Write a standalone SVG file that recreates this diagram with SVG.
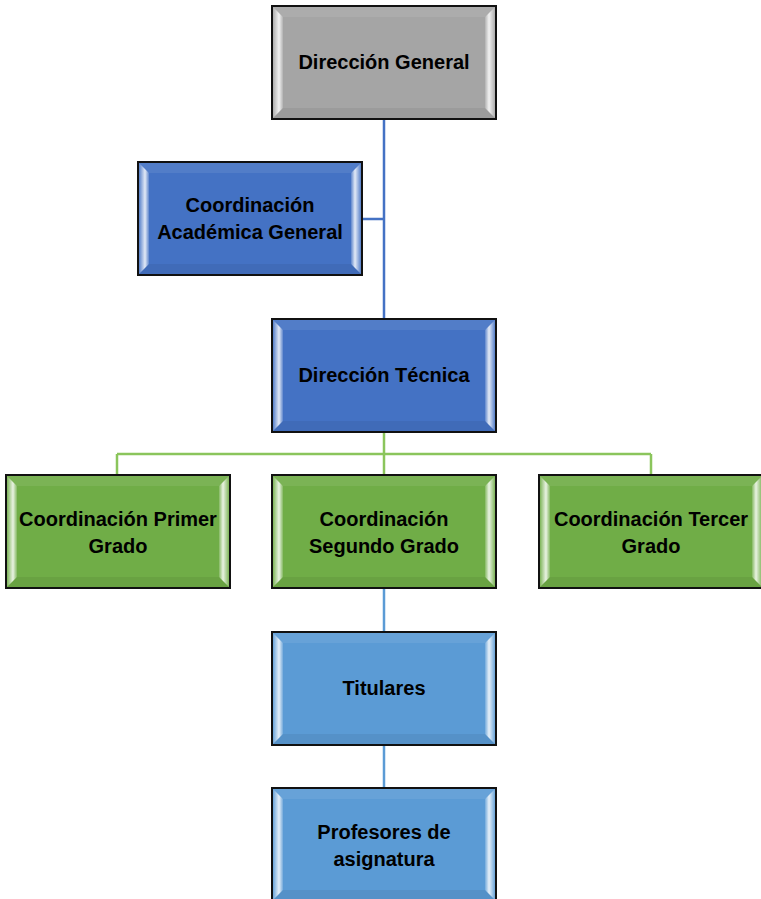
<svg xmlns="http://www.w3.org/2000/svg" width="761" height="899" viewBox="0 0 761 899">
<defs>
<linearGradient id="hl" x1="0" y1="0" x2="1" y2="0">
<stop offset="0" stop-color="#fff" stop-opacity="0.1"/>
<stop offset="0.6" stop-color="#fff" stop-opacity="0.85"/>
<stop offset="1" stop-color="#fff" stop-opacity="0.15"/>
</linearGradient>
<linearGradient id="hr" x1="1" y1="0" x2="0" y2="0">
<stop offset="0" stop-color="#fff" stop-opacity="0.1"/>
<stop offset="0.6" stop-color="#fff" stop-opacity="0.85"/>
<stop offset="1" stop-color="#fff" stop-opacity="0.15"/>
</linearGradient>
<g id="bevel">
<polygon points="1,1 11,11 11,102 1,112" fill="url(#hl)"/>
<polygon points="223,1 213,11 213,102 223,112" fill="url(#hr)"/>
<polygon points="1,1 223,1 213,11 11,11" fill="#fff" fill-opacity="0.08"/>
<polygon points="1,112 223,112 213,102 11,102" fill="#000" fill-opacity="0.06"/>
<rect x="0" y="0" width="224" height="113" fill="none" stroke="#111" stroke-width="2"/>
</g>
</defs>
<style>
.t{font-family:"Liberation Sans",Arial,sans-serif;font-weight:bold;font-size:20px;fill:#000;text-anchor:middle}
.gray{fill:#A5A5A5}.blue{fill:#4472C4}.green{fill:#70AD47}.lblue{fill:#5B9BD5}
</style>
<g id="connectors" fill="none" stroke-width="2.5">
<path d="M384,120 V319 M362,219 H384" stroke="#4472C4"/>
<path d="M384,432 V475 M117,454 H651 M117,454 V475 M651,454 V475" stroke="#8BC55C"/>
<path d="M384,588 V632 M384,745 V788" stroke="#5B9BD5"/>
</g>
<g id="direccion-general" transform="translate(272,6)">
<rect class="gray" width="224" height="113"/><use href="#bevel"/>
<text class="t" x="112" y="63">Dirección General</text>
</g>
<g id="coord-academica" transform="translate(138,162)">
<rect class="blue" width="224" height="113"/><use href="#bevel"/>
<text class="t" x="112" y="50">Coordinación</text>
<text class="t" x="112" y="77">Académica General</text>
</g>
<g id="direccion-tecnica" transform="translate(272,319)">
<rect class="blue" width="224" height="113"/><use href="#bevel"/>
<text class="t" x="112" y="63">Dirección Técnica</text>
</g>
<g id="coord-primer" transform="translate(6,475)">
<rect class="green" width="224" height="113"/><use href="#bevel"/>
<text class="t" x="112" y="51">Coordinación Primer</text>
<text class="t" x="112" y="78">Grado</text>
</g>
<g id="coord-segundo" transform="translate(272,475)">
<rect class="green" width="224" height="113"/><use href="#bevel"/>
<text class="t" x="112" y="51">Coordinación</text>
<text class="t" x="112" y="78">Segundo Grado</text>
</g>
<g id="coord-tercer" transform="translate(539,475)">
<rect class="green" width="224" height="113"/><use href="#bevel"/>
<text class="t" x="112" y="51">Coordinación Tercer</text>
<text class="t" x="112" y="78">Grado</text>
</g>
<g id="titulares" transform="translate(272,632)">
<rect class="lblue" width="224" height="113"/><use href="#bevel"/>
<text class="t" x="112" y="63">Titulares</text>
</g>
<g id="profesores" transform="translate(272,788)">
<rect class="lblue" width="224" height="113"/><use href="#bevel"/>
<text class="t" x="112" y="51">Profesores de</text>
<text class="t" x="112" y="78">asignatura</text>
</g>
</svg>
